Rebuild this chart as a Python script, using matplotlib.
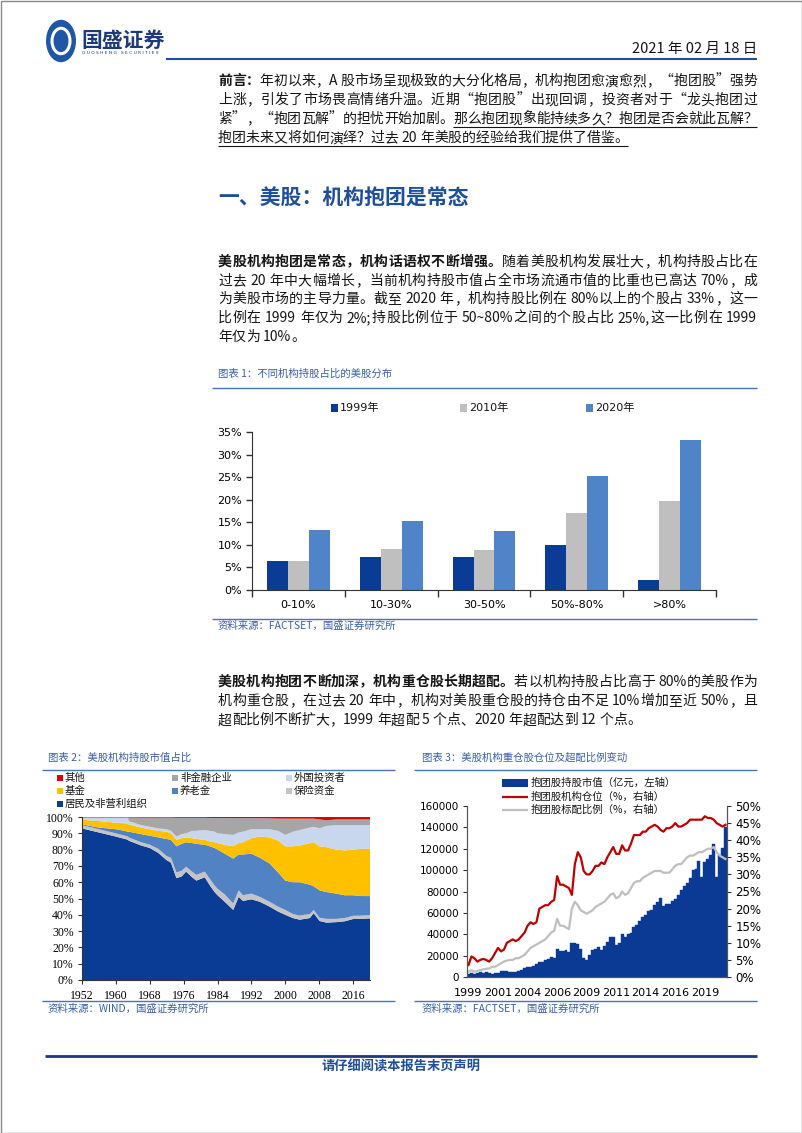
import numpy as np
import matplotlib
matplotlib.use('Agg')
import matplotlib.pyplot as plt
from matplotlib.font_manager import FontProperties
from matplotlib.patches import Rectangle, Circle
from matplotlib.lines import Line2D

# ---------------- data ----------------
# Chart 1: distribution of US stocks by institutional ownership share
cats1 = ['0-10%', '10-30%', '30-50%', '50%-80%', '>80%']
names1 = ['1999年', '2010年', '2020年']
s1999 = [6.5, 7.3, 7.3, 9.9, 2.2]
s2010 = [6.5, 9.0, 8.8, 17.0, 19.8]
s2020 = [13.2, 15.3, 13.0, 25.2, 33.3]
yticks1 = [0, 5, 10, 15, 20, 25, 30, 35]

# Chart 2: market value share of US equity holders (%)
years2 = [1952, 1956, 1960, 1962.9, 1963, 1966, 1968, 1970, 1972, 1973,
          1974.3, 1975.5, 1976.6, 1978, 1979, 1981, 1982.2, 1983.3, 1984, 1985.7,
          1987.7, 1989, 1990, 1992, 1994, 1996.3, 1998.3, 2000, 2001.8, 2003.4,
          2005.8, 2006.7, 2008.1, 2009.7, 2012, 2014, 2016, 2018, 2020]
household = [93, 90.5, 88, 86, 85.5, 82.5, 81, 78, 73.5, 72,
             62.5, 63.5, 66.5, 63, 61, 63, 58, 54, 52, 48,
             43, 51, 48.5, 49.5, 48, 45, 42, 40, 38, 37,
             38, 41, 36.2, 35.2, 35.5, 36, 37.4, 37.5, 37.8]
insurance = [2, 2, 2, 2, 2, 2, 2, 2.5, 2.5, 3,
             3.5, 3.5, 3, 3.5, 3.5, 3.5, 4, 4, 4, 4.5,
             4, 4, 3.5, 3.5, 3, 3, 3, 3, 2.5, 2.5,
             2.5, 2, 2, 2.3, 2, 2, 2, 2, 2]
pension = [0.5, 1, 2.5, 3, 3.5, 5, 5.5, 7, 10.5, 11,
           16, 16.5, 15, 17.5, 19, 16.5, 20, 23, 24, 25,
           27.5, 22, 25, 24.5, 24, 23.5, 21, 18, 19.5, 20.5,
           18, 14.5, 16.8, 16.5, 15.5, 14, 12.6, 12, 11.7]
funds = [2.8, 4, 4, 5, 4.5, 4, 4, 4, 4.5, 4,
         4, 3.5, 3, 3, 3, 3, 3, 3.5, 4, 5.5,
         7.5, 7, 7.5, 9.5, 13, 16, 19.5, 21, 22, 22.5,
         25.5, 27, 27, 27.5, 27, 27.5, 28, 29, 29]
foreign = [1.4, 2.2, 3.2, 3.7, 2, 1.5, 1.5, 1.5, 1.5, 1.5,
           2, 2.5, 2.5, 4.5, 5, 6, 6.5, 6.5, 6, 6.5,
           7, 6.5, 6.5, 5.5, 4.5, 5, 6, 7, 9, 9.5,
           9.5, 9.5, 11, 13, 15, 15.5, 15, 14.5, 14.5]
nonfin = [0, 0, 0, 0, 2.2, 4.6, 5.6, 6.6, 7.1, 8.1,
          11.5, 10, 9.5, 8, 8, 7.5, 7.9, 8.4, 9.4, 9.9,
          10.3, 8.8, 8.3, 6.8, 6.8, 6.7, 7.5, 10, 8, 7,
          5.5, 5, 5.5, 3.5, 3.5, 3.5, 3.5, 3.5, 3.5]
others = [0.3, 0.3, 0.3, 0.3, 0.3, 0.4, 0.4, 0.4, 0.4, 0.4,
          0.5, 0.5, 0.5, 0.5, 0.5, 0.5, 0.6, 0.6, 0.6, 0.6,
          0.7, 0.7, 0.7, 0.7, 0.7, 0.8, 1, 1, 1, 1,
          1, 1, 1.5, 2, 1.5, 1.5, 1.5, 1.5, 1.5]
xticks2 = [1952, 1960, 1968, 1976, 1984, 1992, 2000, 2008, 2016]
yticks2 = [0, 10, 20, 30, 40, 50, 60, 70, 80, 90, 100]

# Chart 3: quarterly 1999Q1 - 2020Q4
mv3 = [3000, 3500, 3000, 4000, 4500, 4000, 4500, 3500, 3000, 4000,
       3500, 5500, 6000, 5500, 4500, 5000, 4500, 6000, 6500, 8000,
       9000, 9500, 10000, 12000, 14500, 14000, 15500, 17000, 19000, 18000,
       26000, 24000, 24000, 25000, 23000, 32000, 32000, 31000, 26000, 18000,
       16000, 21000, 25000, 26000, 28000, 25000, 29000, 33000, 37000, 37000,
       30000, 32000, 40000, 37000, 40000, 41000, 47000, 49000, 52000, 56000,
       58000, 62000, 63000, 67000, 70000, 74000, 66000, 68000, 68000, 71000,
       73000, 77000, 81000, 85000, 88000, 93000, 100000, 101000, 109000, 94000,
       108000, 110000, 114000, 124000, 94000, 114000, 121000, 140000]
pos3 = [3.5, 6, 5.5, 4.5, 5, 5.3, 5, 4.5, 5.5, 7,
        8.5, 7.5, 8, 10, 10.5, 11, 10.5, 11, 12, 13,
        15, 16, 15.5, 16, 20, 20.5, 21, 21, 22, 22.5,
        29.5, 27, 27, 26.5, 26, 24, 33, 36.5, 35, 31,
        30, 30, 31, 32.5, 32.5, 33.5, 33, 35, 36.5, 38,
        36, 36, 38.5, 37, 37, 39, 41.5, 41.5, 41.5, 42.5,
        42.5, 43.5, 44, 44.5, 44, 43, 42.5, 43.5, 43.5, 44,
        45, 44, 44, 44.5, 45, 46, 46, 46, 46, 46,
        47, 46.5, 46.5, 46, 45, 44.5, 44, 44.5]
bench3 = [1.5, 2, 1.5, 1.8, 2, 2.2, 2.4, 2.5, 3, 3,
          3.5, 4, 4.5, 4.8, 5, 5, 5.5, 5.5, 6, 6.5,
          7.5, 8.5, 9, 9.5, 10, 10.5, 11, 12, 13, 13.5,
          17, 15, 15, 14.5, 14, 20, 22, 21, 19.5, 19,
          18.5, 19, 19.5, 20.5, 21, 21.5, 22, 23, 24, 24.5,
          23, 23.5, 25, 24, 24.5, 26, 27.5, 28, 28, 29,
          29.5, 30, 30.5, 31, 31, 31, 30.5, 30.5, 30.5, 31.5,
          32.5, 33, 33, 34, 35, 35.5, 35.5, 36, 36.5, 36.5,
          37, 37.5, 37.5, 38, 36.5, 35.5, 35, 34.5]
xtick_idx3 = [0, 10, 20, 30, 40, 50, 60, 70, 80]
xtick_lab3 = ['1999', '2001', '2004', '2006', '2009', '2011', '2014', '2016', '2019']
names3 = ['抱团股持股市值（亿元，左轴）', '抱团股机构仓位（%，右轴）', '抱团股标配比例（%，右轴）']

# ---------------- styling ----------------
W, H = 802, 1133
BODY = ['Noto Sans CJK SC', 'DejaVu Sans']
LAT = ['DejaVu Sans', 'Noto Sans CJK SC']
TXT = '#151515'
NAVY = '#1F4E9C'
CAP = '#3A5FAA'
CAPLINE = '#4A74BA'
C1999, C2010, C2020 = '#0A3C96', '#BFBFBF', '#4F84C8'
COL2 = ['#0A3C96', '#C4C4C4', '#5182C4', '#FFC000', '#C8D6EE', '#A6A6A6', '#E00000']
CBAR, CRED, CGRAY = '#0A3A94', '#C00000', '#BFBFBF'
AX = '#333333'

fig = plt.figure(figsize=(W / 100, H / 100), dpi=100)
fig.patch.set_facecolor('white')
R = fig.canvas.get_renderer()


def X(x):
    return x / W


def Y(y):
    return 1 - y / H


def hline(x0, x1, y, color, lw):
    fig.add_artist(Line2D([X(x0), X(x1)], [Y(y), Y(y)], color=color, lw=lw,
                          transform=fig.transFigure, solid_capstyle='butt'))


def rect(x, y, w, h, color):
    fig.add_artist(Rectangle((X(x), Y(y + h)), w / W, h / H, transform=fig.transFigure,
                             facecolor=color, edgecolor='none'))


def tokens(s):
    out, buf = [], ''
    for ch in s:
        if ord(ch) < 128 and ch != ' ':
            buf += ch
        else:
            if buf:
                out.append(buf)
                buf = ''
            out.append(ch)
    if buf:
        out.append(buf)
    return out


def width(t, prop):
    if t == ' ':
        w2 = R.get_text_width_height_descent('x x', prop, ismath=False)[0]
        w1 = R.get_text_width_height_descent('xx', prop, ismath=False)[0]
        return w2 - w1
    return R.get_text_width_height_descent(t, prop, ismath=False)[0]


def para_line(yc, segs, justify=True, x0=218, x1=757, size=10):
    items = []
    for txt, bold, ul in segs:
        prop = FontProperties(family=BODY, size=size, weight='bold' if bold else 'normal')
        for t in tokens(txt):
            items.append((t, prop, ul, width(t, prop)))
    total = sum(it[3] for it in items)
    extra = (x1 - x0 - total) / (len(items) - 1) if justify else 0
    x = x0
    yb = yc + 0.37 * size * 100 / 72
    us = ue = None
    for t, prop, ul, w in items:
        if t != ' ':
            fig.text(X(x), Y(yb), t, fontproperties=prop, color=TXT, ha='left', va='baseline')
        if ul:
            if us is None:
                us = x
            ue = x + w
        x += w + extra
    if us is not None:
        hline(us, ue, yb + 3.5, TXT, 0.8)


# ---------------- page frame & header ----------------
fig.add_artist(Rectangle((X(0.5), Y(1132.5)), 801 / W, 1132 / H, transform=fig.transFigure,
                         facecolor='none', edgecolor='#8a8a8a', lw=1))
fig.add_artist(Circle((X(61), Y(41)), 15 / W, transform=fig.transFigure, facecolor='#1E56A8',
                      edgecolor='none'))
fig.add_artist(Circle((X(61), Y(41)), 9 / W, transform=fig.transFigure, facecolor='none',
                      edgecolor='white', lw=2.2))
fig.text(X(61), Y(41), 'S', family='DejaVu Sans', weight='bold', size=11, color='#1E56A8',
         ha='center', va='center')
fig.text(X(81), Y(40), '国盛证券', family=BODY, weight='bold', size=15, color='#1D3A7A',
         ha='left', va='center')
fig.text(X(82), Y(53), 'G U O S H E N G   S E C U R I T I E S', family='DejaVu Sans', size=3.2,
         color='#1D3A7A', ha='left', va='center')
fig.text(X(757), Y(49), '2021 年 02 月 18 日', family=BODY, size=10.5, color=TXT,
         ha='right', va='center')
hline(166, 757, 59, NAVY, 1.5)

# ---------------- preface ----------------
para_line(80, [('前言：', True, False),
               ('年初以来，A 股市场呈现极致的大分化格局，机构抱团愈演愈烈，“抱团股”强势', False, False)])
para_line(99, [('上涨，引发了市场畏高情绪升温。近期“抱团股”出现回调，投资者对于“龙头抱团过', False, False)])
para_line(118, [('紧”，“抱团瓦解”的担忧开始加剧。', False, False),
                ('那么抱团现象能持续多久？抱团是否会就此瓦解？', False, True)])
para_line(137, [('抱团未来又将如何演绎？过去 20 年美股的经验给我们提供了借鉴。', False, True)],
          justify=False)

fig.text(X(218), Y(198), '一、美股：机构抱团是常态', family=BODY, weight='bold', size=15,
         color=NAVY, ha='left', va='center')

para_line(261, [('美股机构抱团是常态，机构话语权不断增强。', True, False),
                ('随着美股机构发展壮大，机构持股占比在', False, False)])
para_line(280, [('过去 20 年中大幅增长，当前机构持股市值占全市场流通市值的比重也已高达 70%，成', False, False)])
para_line(298, [('为美股市场的主导力量。截至 2020 年，机构持股比例在 80%以上的个股占 33%，这一', False, False)])
para_line(317, [('比例在 1999 年仅为 2%;持股比例位于 50~80%之间的个股占比 25%,这一比例在 1999', False, False)])
para_line(336, [('年仅为 10%。', False, False)], justify=False)

para_line(681, [('美股机构抱团不断加深，机构重仓股长期超配。', True, False),
                ('若以机构持股占比高于 80%的美股作为', False, False)])
para_line(700, [('机构重仓股，在过去 20 年中，机构对美股重仓股的持仓由不足 10%增加至近 50%，且', False, False)])
para_line(719, [('超配比例不断扩大，1999 年超配 5 个点、2020 年超配达到 12 个点。', False, False)],
          justify=False)

# ---------------- captions / sources ----------------
def caption(x, y, s):
    fig.text(X(x), Y(y), s, family=BODY, size=7.5, color=CAP, ha='left', va='center')

caption(218, 374, '图表 1：不同机构持股占比的美股分布')
hline(212, 757, 388, CAPLINE, 1)
hline(212, 757, 619, CAPLINE, 1)
caption(218, 626, '资料来源：FACTSET，国盛证券研究所')

caption(48, 758, '图表 2：美股机构持股市值占比')
hline(42, 395, 770, CAPLINE, 1)
hline(42, 395, 1001, CAPLINE, 1)
caption(48, 1009, '资料来源：WIND，国盛证券研究所')

caption(422, 758, '图表 3：美股机构重仓股仓位及超配比例变动')
hline(414, 757, 770, CAPLINE, 1)
hline(414, 757, 1001, CAPLINE, 1)
caption(422, 1009, '资料来源：FACTSET，国盛证券研究所')

# footer
hline(45, 757, 1056, '#1F3A7A', 2)
fig.text(X(401), Y(1067), '请仔细阅读本报告末页声明', family=BODY, weight='bold', size=9.5,
         color=NAVY, ha='center', va='center')

# ---------------- chart 1 ----------------
ax1 = fig.add_axes([X(252), Y(590), (716 - 252) / W, (590 - 432) / H])
xi = np.arange(len(cats1))
bw = 0.226
for off, vals, col in [(-bw, s1999, C1999), (0, s2010, C2010), (bw, s2020, C2020)]:
    ax1.bar(xi + off, vals, bw, color=col, lw=0)
ax1.set_xlim(-0.5, len(cats1) - 0.5)
ax1.set_ylim(0, 35)
ax1.set_yticks(yticks1)
ax1.set_yticklabels([f'{v}%' for v in yticks1])
ax1.set_xticks(np.arange(-0.5, len(cats1)), labels=[''] * (len(cats1) + 1))
ax1.set_xticks(xi, labels=cats1, minor=True)
ax1.tick_params(axis='x', which='major', direction='out', length=5, width=1, color=AX)
ax1.tick_params(axis='x', which='minor', length=0, pad=7, labelsize=8)
ax1.tick_params(axis='y', direction='out', length=4, width=1, color=AX, labelsize=8, pad=3)
for s in ['top', 'right']:
    ax1.spines[s].set_visible(False)
for s in ['left', 'bottom']:
    ax1.spines[s].set_color(AX)
for lb in ax1.get_xticklabels(minor=True) + ax1.get_yticklabels():
    lb.set_family('DejaVu Sans')
for xs, col, nm in zip([331, 460, 586], [C1999, C2010, C2020], names1):
    rect(xs, 404.5, 7, 7, col)
    fig.text(X(xs + 9), Y(408), nm, family=LAT, size=8, color=TXT, ha='left', va='center')

# ---------------- chart 2 ----------------
ax2 = fig.add_axes([X(82), Y(980), (370 - 82) / W, (980 - 817) / H])
ax2.stackplot(years2, household, insurance, pension, funds, foreign, nonfin, others,
              colors=COL2, lw=0)
ax2.set_xlim(1952, 2020)
ax2.set_ylim(0, 100)
ax2.set_xticks(xticks2)
ax2.set_yticks(yticks2)
ax2.set_yticklabels([f'{v}%' for v in yticks2])
ax2.tick_params(axis='both', direction='out', length=3, width=0.8, color=AX, labelsize=8.5)
ax2.tick_params(axis='x', pad=4)
ax2.tick_params(axis='y', pad=3)
for s in ['top', 'right']:
    ax2.spines[s].set_visible(False)
for s in ['left', 'bottom']:
    ax2.spines[s].set_color(AX)
for lb in ax2.get_xticklabels() + ax2.get_yticklabels():
    lb.set_family('Liberation Serif')
legend2 = [('其他', COL2[6], 57, 778), ('非金融企业', COL2[5], 172, 778), ('外国投资者', COL2[4], 286, 778),
           ('基金', COL2[3], 57, 791), ('养老金', COL2[2], 172, 791), ('保险资金', COL2[1], 286, 791),
           ('居民及非营利组织', COL2[0], 57, 804)]
for nm, col, xs, yc in legend2:
    rect(xs, yc - 3, 6, 6, col)
    fig.text(X(xs + 8), Y(yc), nm, family=BODY, size=7.5, color=TXT, ha='left', va='center')

# ---------------- chart 3 ----------------
ax3 = fig.add_axes([X(467), Y(977), (727 - 467) / W, (977 - 806) / H])
idx = np.arange(len(mv3))
ax3.bar(idx, mv3, width=1.0, color=CBAR, edgecolor=CBAR, lw=0.3)
ax3.set_xlim(-0.5, len(mv3) - 0.5)
ax3.set_ylim(0, 160000)
ax3.set_yticks(np.arange(0, 160001, 20000))
ax3.set_xticks(xtick_idx3, labels=xtick_lab3)
ax3.tick_params(axis='x', length=0, pad=8, labelsize=8)
ax3.tick_params(axis='y', direction='out', length=3, width=0.8, color=AX, labelsize=7.5, pad=3)
ax3b = ax3.twinx()
ax3b.plot(idx, pos3, color=CRED, lw=1.6)
ax3b.plot(idx, bench3, color=CGRAY, lw=1.6)
ax3b.set_ylim(0, 50)
ax3b.set_yticks(np.arange(0, 51, 5))
ax3b.set_yticklabels([f'{v}%' for v in range(0, 51, 5)])
ax3b.tick_params(axis='y', direction='out', length=3, width=0.8, color=AX, labelsize=8.5, pad=3)
for a in (ax3, ax3b):
    a.spines['top'].set_visible(False)
    for s in ['left', 'right', 'bottom']:
        a.spines[s].set_color('#555555')
for lb in ax3.get_xticklabels() + ax3.get_yticklabels() + ax3b.get_yticklabels():
    lb.set_family('DejaVu Sans')
rect(502, 779, 26, 8, CBAR)
hline(502, 528, 797, CRED, 1.6)
hline(502, 528, 810, CGRAY, 1.6)
for yc, nm in zip([783, 797, 810], names3):
    fig.text(X(531), Y(yc), nm, family=BODY, size=7.5, color=TXT, ha='left', va='center')

fig.savefig('out.png', dpi=100)
